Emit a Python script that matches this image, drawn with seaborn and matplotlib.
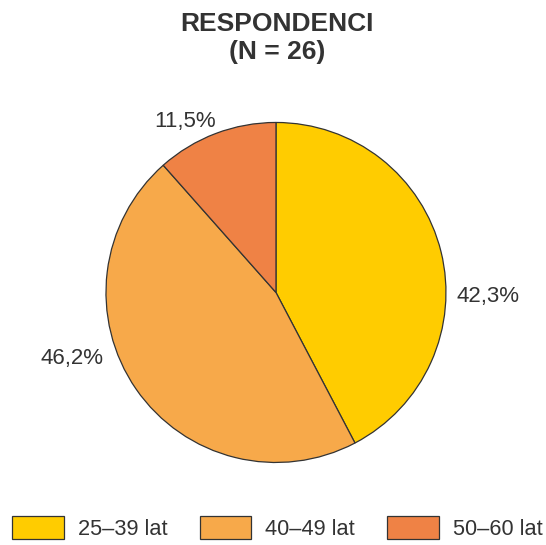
import matplotlib
matplotlib.use("Agg")
import matplotlib.pyplot as plt
import seaborn as sns
import numpy as np

# data
categories = ["25–39 lat", "40–49 lat", "50–60 lat"]
counts = [11, 12, 3]
pct_labels = ["42,3%", "46,2%", "11,5%"]
colors = ["#FFCC00", "#F7A94A", "#EF8245"]

# label placement (angle in degrees, radius as fraction of pie radius)
label_pos = [(-1, 1.25), (198, 1.26), (118, 1.14)]

sns.set_theme(style="white")
plt.rcParams["font.family"] = ["Liberation Sans", "DejaVu Sans"]

fig = plt.figure(figsize=(5.46, 5.45), dpi=100)
ax = fig.add_axes([0.1941, 0.1505, 0.6227, 0.6257])

palette = sns.color_palette(colors)
wedges, _ = ax.pie(
    counts,
    startangle=90,
    counterclock=False,
    colors=palette,
    radius=1.0,
    wedgeprops={"edgecolor": "#333333", "linewidth": 0.9},
)
ax.set_xlim(-1, 1)
ax.set_ylim(-1, 1)
ax.set_aspect("equal")

for txt, (ang, r) in zip(pct_labels, label_pos):
    a = np.deg2rad(ang)
    ax.text(r * np.cos(a), r * np.sin(a), txt, ha="center", va="center",
            fontsize=16, color="#333333")

fig.text(0.508, 0.956, "RESPONDENCI", ha="center", va="center",
         fontsize=19, fontweight="bold", color="#333333")
fig.text(0.508, 0.905, "(N = 26)", ha="center", va="center",
         fontsize=19, fontweight="bold", color="#333333")

leg = fig.legend(
    wedges, categories,
    loc="center left", bbox_to_anchor=(0.022, 0.031),
    ncol=3, frameon=False, fontsize=15.7,
    handlelength=2.38, handleheight=1.19, handletextpad=0.64,
    columnspacing=1.47, borderaxespad=0, borderpad=0,
    labelcolor="#333333",
)
for h in leg.legend_handles:
    h.set_edgecolor("#333333")
    h.set_linewidth(0.9)

fig.savefig("out.png", dpi=100)
